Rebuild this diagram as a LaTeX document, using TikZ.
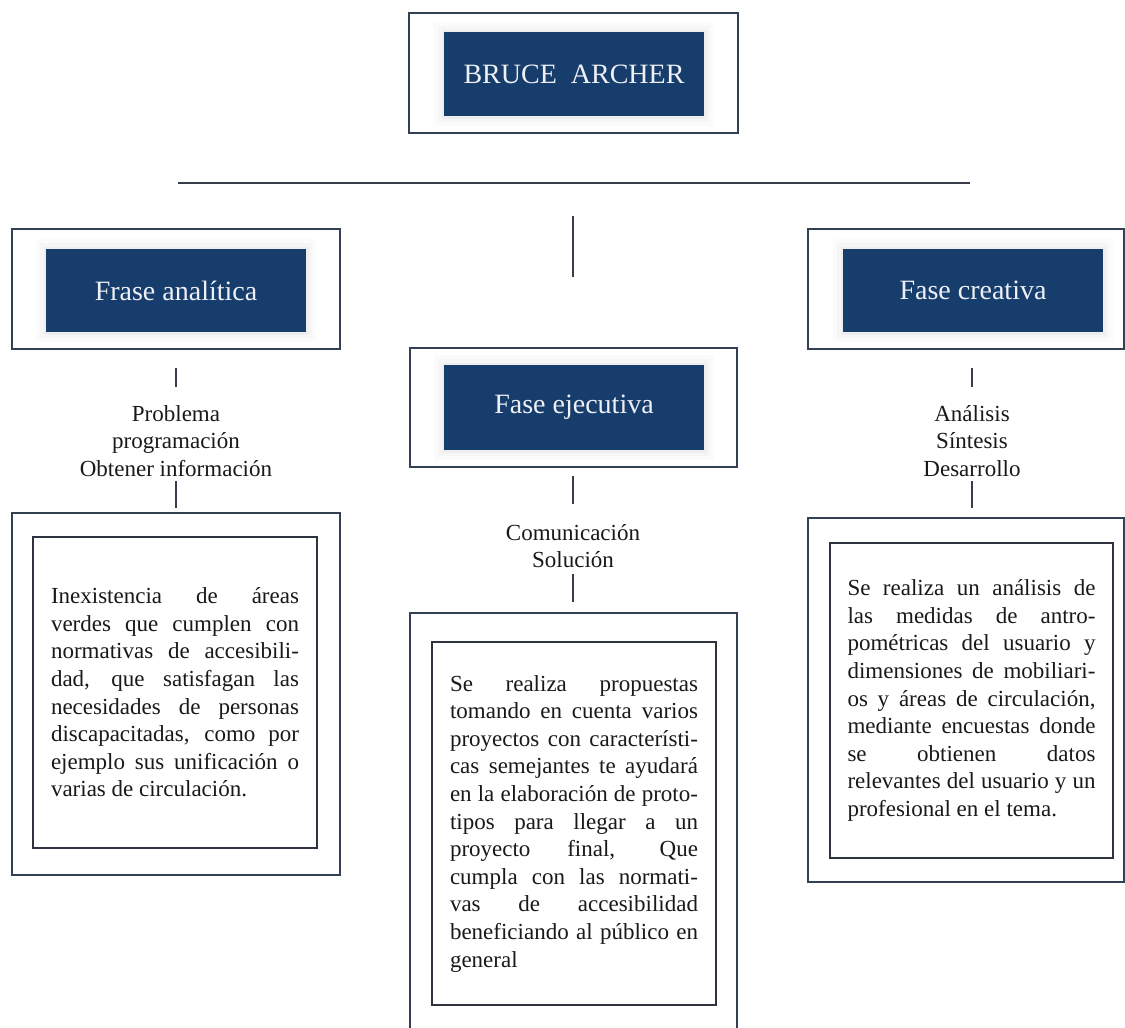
\documentclass[tikz,border=0pt]{standalone}
\usepackage{fontspec}
\setmainfont{Liberation Serif}
\definecolor{hdrblue}{RGB}{23,61,108}
\definecolor{framec}{RGB}{52,64,84}
\definecolor{boxc}{RGB}{45,52,64}
\definecolor{linec}{RGB}{55,62,74}
\definecolor{txtc}{RGB}{25,25,25}
\definecolor{hdrtext}{RGB}{238,240,246}
\newcommand{\bodypar}[1]{\parbox{248pt}{\tolerance=10000\hyphenpenalty=10000\parindent=0pt #1}}
\begin{document}
\begin{tikzpicture}[x=1pt,y=-1pt,
  frame/.style={draw=framec, line width=2pt, inner sep=0pt},
  hdr/.style={fill=hdrblue, text=hdrtext, inner sep=0pt,
    font=\fontsize{28pt}{33pt}\selectfont,
    preaction={draw=black,draw opacity=0.015,line width=20pt},
    preaction={draw=black,draw opacity=0.02,line width=12pt},
    preaction={draw=black,draw opacity=0.03,line width=5pt}},
  txtbox/.style={draw=boxc, line width=2.6pt, inner sep=0pt, text=txtc,
    font=\fontsize{23pt}{27.6pt}\selectfont},
  lbl/.style={align=center, text=txtc, inner sep=0pt,
    font=\fontsize{23pt}{27.6pt}\selectfont},
  conn/.style={draw=linec, line width=2.6pt}]
\useasboundingbox (0,0) rectangle (1125,1028);
\clip (0,0) rectangle (1125,1028);
\fill[white] (0,0) rectangle (1125,1028);

% top
\node[frame, minimum width=329pt, minimum height=120pt] (topo) at (573.5,73) {};
\node[hdr, minimum width=260pt, minimum height=84pt] (top) at (574,74) {BRUCE\ \ ARCHER};

% headers
\node[frame, minimum width=328pt, minimum height=120pt] (lho) at (176,289) {};
\node[hdr, minimum width=260pt, minimum height=83pt] (lh) at (176,290.5) {Frase analítica};
\node[frame, minimum width=316pt, minimum height=120pt] (rho) at (966,289) {};
\node[hdr, minimum width=260pt, minimum height=83pt] (rh) at (973,290.5) {Fase creativa};
\node[frame, minimum width=327pt, minimum height=119pt] (mho) at (573.5,407.5) {};
\node[hdr, minimum width=260pt, minimum height=85pt] (mh) at (574,407.5) {Fase ejecutiva};

% labels
\node[lbl] (llbl) at (176,441) {Problema\\programación\\Obtener información};
\node[lbl] (rlbl) at (972,441) {Análisis\\Síntesis\\Desarrollo};
\node[lbl] (mlbl) at (573,546) {Comunicación\\Solución};

% content boxes
\node[frame, minimum width=328pt, minimum height=362pt] (lco) at (176,694) {};
\node[txtbox, minimum width=284pt, minimum height=311pt] (lc) at (175,692.5) {\bodypar{Inexistencia de áreas\linebreak verdes que cumplen con\linebreak normativas de accesibili-\linebreak dad, que satisfagan las\linebreak necesidades de personas\linebreak discapacitadas, como por\linebreak ejemplo sus unificación o\linebreak varias de circulación.}};

\node[frame, minimum width=327pt, minimum height=432pt] (mco) at (573.5,829) {};
\node[txtbox, minimum width=284pt, minimum height=363pt] (mc) at (574,823.5) {\bodypar{Se realiza propuestas\linebreak tomando en cuenta varios\linebreak proyectos con característi-\linebreak cas semejantes te ayudará\linebreak en la elaboración de proto-\linebreak tipos para llegar a un\linebreak proyecto final, Que\linebreak cumpla con las normati-\linebreak vas de accesibilidad\linebreak beneficiando al público en\linebreak general}};

\node[frame, minimum width=316pt, minimum height=364pt] (rco) at (966,700) {};
\node[txtbox, minimum width=283pt, minimum height=315pt] (rc) at (971.5,700.5) {\bodypar{Se realiza un análisis de\linebreak las medidas de antro-\linebreak pométricas del usuario y\linebreak dimensiones de mobiliari-\linebreak os y áreas de circulación,\linebreak mediante encuestas donde\linebreak se obtienen datos\linebreak relevantes del usuario y un\linebreak profesional en el tema.}};

% connector coordinates
\coordinate (hl1) at (178,183);
\coordinate (hl2) at (970,183);
\coordinate (cv1) at (573,216);
\coordinate (cv2) at (573,277);
\coordinate (la1) at (176,368);
\coordinate (la2) at (176,387);
\coordinate (lb1) at (176,481);
\coordinate (lb2) at (176,508);
\coordinate (ra1) at (972,368);
\coordinate (ra2) at (972,387);
\coordinate (rb1) at (972,481);
\coordinate (rb2) at (972,508);
\coordinate (ma1) at (573,476);
\coordinate (ma2) at (573,504);
\coordinate (mb1) at (573,574);
\coordinate (mb2) at (573,602);

\draw[conn] (hl1) -- (hl2);
\draw[conn] (cv1) -- (cv2);
\draw[conn] (la1) -- (la2);
\draw[conn] (lb1) -- (lb2);
\draw[conn] (ra1) -- (ra2);
\draw[conn] (rb1) -- (rb2);
\draw[conn] (ma1) -- (ma2);
\draw[conn] (mb1) -- (mb2);
\end{tikzpicture}
\end{document}
